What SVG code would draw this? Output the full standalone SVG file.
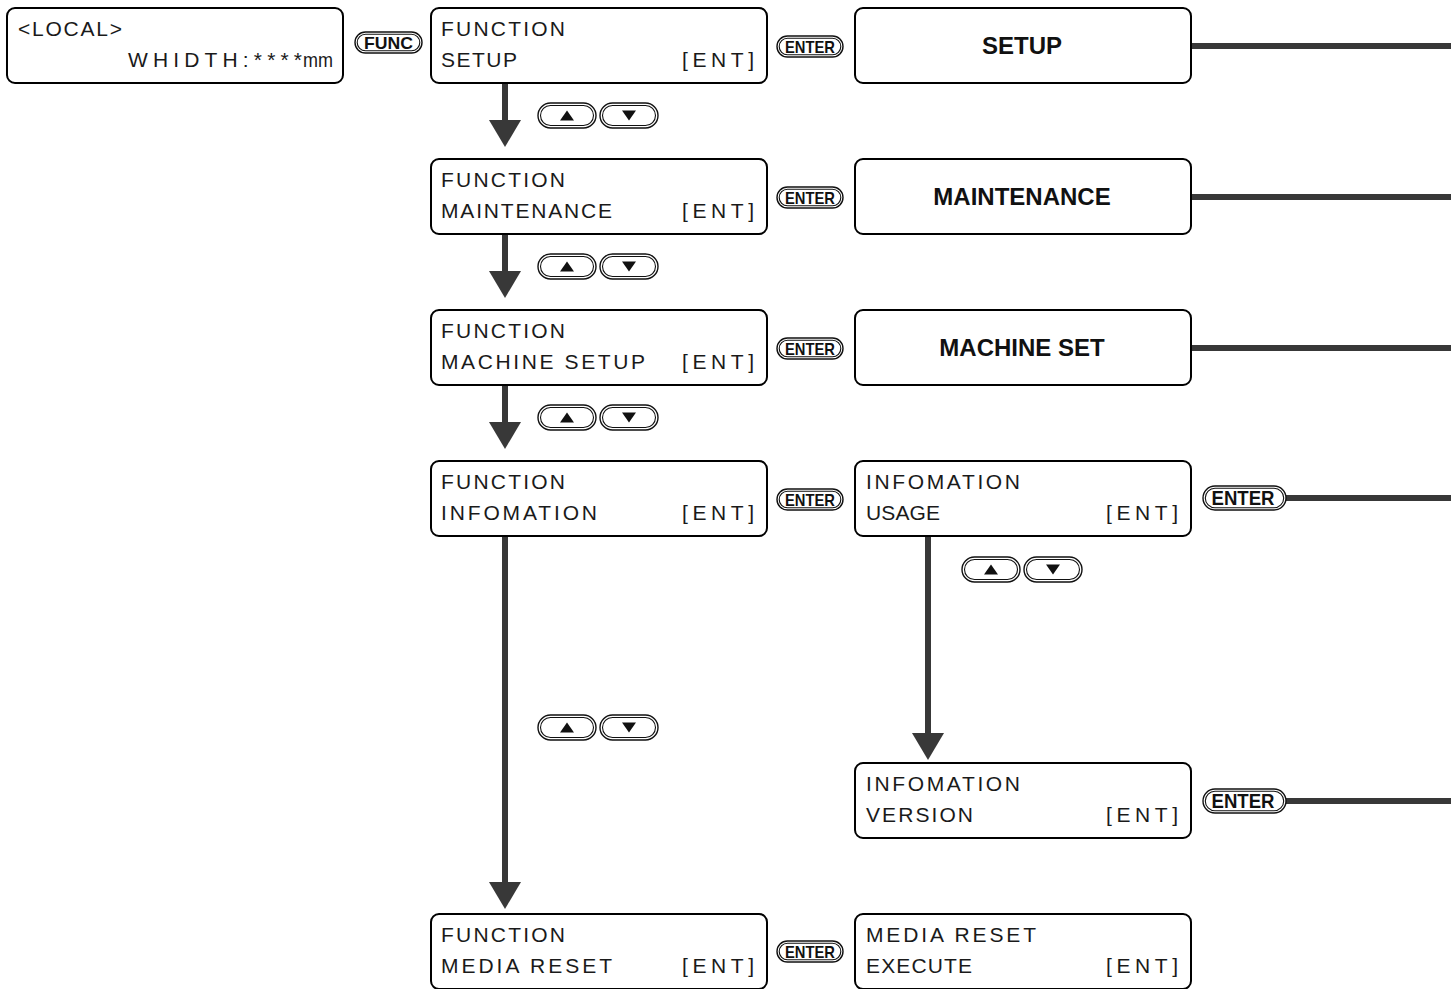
<svg xmlns="http://www.w3.org/2000/svg" xmlns:xlink="http://www.w3.org/1999/xlink" width="1451" height="989" viewBox="0 0 1451 989">
<style>
.box{fill:#fff;stroke:#000;stroke-width:2}
.lcd{font-family:"Liberation Sans",Arial,sans-serif;font-size:21px;fill:#1a1a1a}
.lbl{font-family:"Liberation Sans",Arial,sans-serif;font-size:24px;font-weight:bold;fill:#111;text-anchor:middle}
.po{fill:#fff;stroke:#111;stroke-width:1.4}
.pi{fill:none;stroke:#111;stroke-width:1.1}
.bt{font-family:"Liberation Sans",Arial,sans-serif;font-weight:bold;fill:#111;text-anchor:middle}
.shaft{stroke:#383838;stroke-width:6;fill:none}
.head{fill:#383838}
.line{stroke:#383838;stroke-width:6}
.tri{fill:#111}
</style>
<defs>
<g id="updown">
<rect class="po" x="0" y="0" width="58" height="25" rx="12.5"/>
<rect class="pi" x="2.5" y="2.5" width="53" height="20" rx="10"/>
<polygon class="tri" points="22,17.5 36,17.5 29,7.5"/>
<rect class="po" x="62" y="0" width="58" height="25" rx="12.5"/>
<rect class="pi" x="64.5" y="2.5" width="53" height="20" rx="10"/>
<polygon class="tri" points="84,7.5 98,7.5 91,17.5"/>
</g>
</defs>

<g id="connectors">
<line class="shaft" x1="505" y1="83" x2="505" y2="122"/>
<polygon class="head" points="489,120 521,120 505,147"/>
<line class="shaft" x1="505" y1="234" x2="505" y2="273"/>
<polygon class="head" points="489,271 521,271 505,298"/>
<line class="shaft" x1="505" y1="385" x2="505" y2="424"/>
<polygon class="head" points="489,422 521,422 505,449"/>
<line class="shaft" x1="505" y1="537" x2="505" y2="884"/>
<polygon class="head" points="489,882 521,882 505,909"/>
<line class="shaft" x1="928" y1="537" x2="928" y2="735"/>
<polygon class="head" points="912,733 944,733 928,760"/>
<line class="line" x1="1191" y1="46" x2="1451" y2="46"/>
<line class="line" x1="1191" y1="197" x2="1451" y2="197"/>
<line class="line" x1="1191" y1="348" x2="1451" y2="348"/>
<line class="line" x1="1286" y1="498" x2="1451" y2="498"/>
<line class="line" x1="1286" y1="801" x2="1451" y2="801"/>
</g>

<g id="keys">
<use xlink:href="#updown" x="538" y="103"/>
<use xlink:href="#updown" x="538" y="254"/>
<use xlink:href="#updown" x="538" y="405"/>
<use xlink:href="#updown" x="538" y="715"/>
<use xlink:href="#updown" x="962" y="557"/>
</g>

<g id="local">
<rect class="box" x="7" y="8" width="336" height="75" rx="8"/>
<text class="lcd" x="18" y="36" textLength="104" lengthAdjust="spacing">&lt;LOCAL&gt;</text>
<text class="lcd" x="128" y="67" textLength="174" lengthAdjust="spacing">WHIDTH:****</text>
<text class="lcd" x="303" y="67" textLength="30" lengthAdjust="spacingAndGlyphs">mm</text>
</g>

<g id="func-key">
<rect class="po" x="355" y="32" width="67" height="21" rx="10.5"/>
<rect class="pi" x="357.2" y="34.2" width="62.6" height="16.6" rx="8.3"/>
<text class="bt" x="388.5" y="48.8" font-size="17" textLength="49" lengthAdjust="spacingAndGlyphs">FUNC</text>
</g>

<g id="fn-setup">
<rect class="box" x="431" y="8" width="336" height="75" rx="8"/>
<text class="lcd" x="441" y="36" textLength="124" lengthAdjust="spacing">FUNCTION</text>
<text class="lcd" x="441" y="67" textLength="76" lengthAdjust="spacing">SETUP</text>
<text class="lcd" x="682" y="67" textLength="72" lengthAdjust="spacing">[ENT]</text>
</g>
<g id="fn-maint">
<rect class="box" x="431" y="159" width="336" height="75" rx="8"/>
<text class="lcd" x="441" y="187" textLength="124" lengthAdjust="spacing">FUNCTION</text>
<text class="lcd" x="441" y="218" textLength="171" lengthAdjust="spacing">MAINTENANCE</text>
<text class="lcd" x="682" y="218" textLength="72" lengthAdjust="spacing">[ENT]</text>
</g>
<g id="fn-machine">
<rect class="box" x="431" y="310" width="336" height="75" rx="8"/>
<text class="lcd" x="441" y="338" textLength="124" lengthAdjust="spacing">FUNCTION</text>
<text class="lcd" x="441" y="369" textLength="204" lengthAdjust="spacing">MACHINE SETUP</text>
<text class="lcd" x="682" y="369" textLength="72" lengthAdjust="spacing">[ENT]</text>
</g>
<g id="fn-info">
<rect class="box" x="431" y="461" width="336" height="75" rx="8"/>
<text class="lcd" x="441" y="489" textLength="124" lengthAdjust="spacing">FUNCTION</text>
<text class="lcd" x="441" y="520" textLength="156" lengthAdjust="spacing">INFOMATION</text>
<text class="lcd" x="682" y="520" textLength="72" lengthAdjust="spacing">[ENT]</text>
</g>
<g id="fn-media">
<rect class="box" x="431" y="914" width="336" height="75" rx="8"/>
<text class="lcd" x="441" y="942" textLength="124" lengthAdjust="spacing">FUNCTION</text>
<text class="lcd" x="441" y="973" textLength="171" lengthAdjust="spacing">MEDIA RESET</text>
<text class="lcd" x="682" y="973" textLength="72" lengthAdjust="spacing">[ENT]</text>
</g>

<g id="enter-keys">
<g><rect class="po" x="777" y="36" width="66" height="21" rx="10.5"/><rect class="pi" x="779.2" y="38.2" width="61.6" height="16.6" rx="8.3"/><text class="bt" x="810" y="52.6" font-size="17" textLength="50" lengthAdjust="spacingAndGlyphs">ENTER</text></g>
<g><rect class="po" x="777" y="187" width="66" height="21" rx="10.5"/><rect class="pi" x="779.2" y="189.2" width="61.6" height="16.6" rx="8.3"/><text class="bt" x="810" y="203.6" font-size="17" textLength="50" lengthAdjust="spacingAndGlyphs">ENTER</text></g>
<g><rect class="po" x="777" y="338" width="66" height="21" rx="10.5"/><rect class="pi" x="779.2" y="340.2" width="61.6" height="16.6" rx="8.3"/><text class="bt" x="810" y="354.6" font-size="17" textLength="50" lengthAdjust="spacingAndGlyphs">ENTER</text></g>
<g><rect class="po" x="777" y="489" width="66" height="21" rx="10.5"/><rect class="pi" x="779.2" y="491.2" width="61.6" height="16.6" rx="8.3"/><text class="bt" x="810" y="505.6" font-size="17" textLength="50" lengthAdjust="spacingAndGlyphs">ENTER</text></g>
<g><rect class="po" x="777" y="941" width="66" height="21" rx="10.5"/><rect class="pi" x="779.2" y="943.2" width="61.6" height="16.6" rx="8.3"/><text class="bt" x="810" y="957.6" font-size="17" textLength="50" lengthAdjust="spacingAndGlyphs">ENTER</text></g>
<g><rect class="po" x="1203" y="486" width="83" height="24" rx="12"/><rect class="pi" x="1205.3" y="488.3" width="78.4" height="19.4" rx="9.7"/><text class="bt" x="1243" y="505.2" font-size="20" textLength="63" lengthAdjust="spacingAndGlyphs">ENTER</text></g>
<g><rect class="po" x="1203" y="789" width="83" height="24" rx="12"/><rect class="pi" x="1205.3" y="791.3" width="78.4" height="19.4" rx="9.7"/><text class="bt" x="1243" y="808.2" font-size="20" textLength="63" lengthAdjust="spacingAndGlyphs">ENTER</text></g>
</g>

<g id="setup">
<rect class="box" x="855" y="8" width="336" height="75" rx="8"/>
<text class="lbl" x="1022" y="54">SETUP</text>
</g>
<g id="maintenance">
<rect class="box" x="855" y="159" width="336" height="75" rx="8"/>
<text class="lbl" x="1022" y="205">MAINTENANCE</text>
</g>
<g id="machine-set">
<rect class="box" x="855" y="310" width="336" height="75" rx="8"/>
<text class="lbl" x="1022" y="356">MACHINE SET</text>
</g>
<g id="info-usage">
<rect class="box" x="855" y="461" width="336" height="75" rx="8"/>
<text class="lcd" x="866" y="489" textLength="154" lengthAdjust="spacing">INFOMATION</text>
<text class="lcd" x="866" y="520" textLength="74" lengthAdjust="spacing">USAGE</text>
<text class="lcd" x="1106" y="520" textLength="72" lengthAdjust="spacing">[ENT]</text>
</g>
<g id="info-version">
<rect class="box" x="855" y="763" width="336" height="75" rx="8"/>
<text class="lcd" x="866" y="791" textLength="154" lengthAdjust="spacing">INFOMATION</text>
<text class="lcd" x="866" y="822" textLength="107" lengthAdjust="spacing">VERSION</text>
<text class="lcd" x="1106" y="822" textLength="72" lengthAdjust="spacing">[ENT]</text>
</g>
<g id="media-execute">
<rect class="box" x="855" y="914" width="336" height="75" rx="8"/>
<text class="lcd" x="866" y="942" textLength="170" lengthAdjust="spacing">MEDIA RESET</text>
<text class="lcd" x="866" y="973" textLength="106" lengthAdjust="spacing">EXECUTE</text>
<text class="lcd" x="1106" y="973" textLength="72" lengthAdjust="spacing">[ENT]</text>
</g>
</svg>
